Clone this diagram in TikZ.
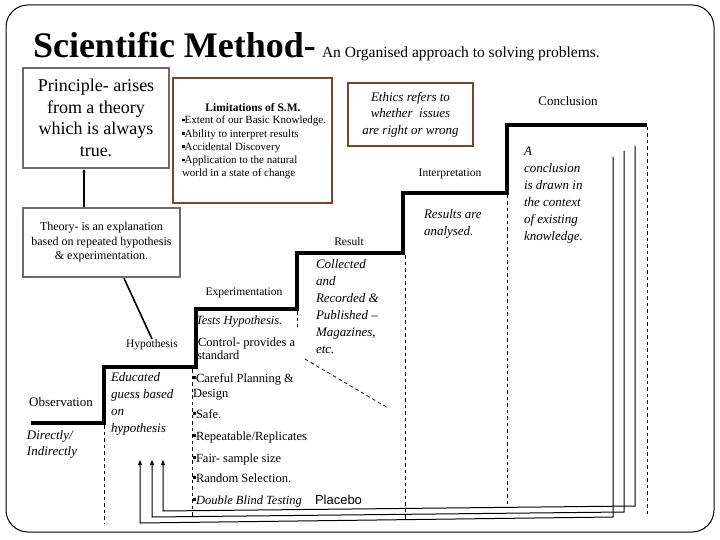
\documentclass[tikz,border=0pt]{standalone}
\usepackage{fontspec}
\setmainfont{Liberation Serif}
\newfontfamily\sansf{Liberation Sans}
\usetikzlibrary{arrows.meta}
\definecolor{graybr}{RGB}{118,104,104}
\definecolor{brownb}{RGB}{120,70,45}
\newcommand\sqb{\rule[0.22em]{0.24em}{0.24em}}
\begin{document}
\begin{tikzpicture}[x=1pt,y=-1pt,
  txt/.style={inner sep=0pt, outer sep=0pt},
  lbl/.style={txt, anchor=base, font=\fontsize{11.5}{14}\selectfont},
  itl/.style={txt, anchor=north west, align=left, font=\fontsize{13}{17}\selectfont\itshape},
  blt/.style={txt, anchor=base west, font=\fontsize{12.5}{14}\selectfont},
  gbox/.style={draw=graybr, line width=2.5pt, fill=white, inner sep=0pt},
  bbox/.style={draw=brownb, line width=2pt, inner sep=0pt},
  stair/.style={line width=3.5pt, line join=miter},
  dsh/.style={dash pattern=on 3.5pt off 3pt, line width=0.8pt},
  thinl/.style={line width=1pt},
  link/.style={line width=1.6pt},
  tip/.style={-{Triangle[length=5pt,width=4pt]}}
]
\useasboundingbox (0,0) rectangle (720,540);
\draw[line width=1pt, rounded corners=22pt] (6,5) rectangle (714,532);

% title
\node[txt, anchor=base west, font=\fontsize{36}{40}\selectfont\bfseries] (title) at (33,58) {Scientific Method-};
\node[txt, anchor=base west, font=\fontsize{15.5}{17}\selectfont] (subtitle) at (322,58) {An Organised approach to solving problems.};

% boxes
\node[gbox, minimum width=146pt, minimum height=100pt, align=center, font=\fontsize{18}{21.7}\selectfont] (principle) at (96,118) {Principle- arises\\from a theory\\which is always\\true.};
\node[bbox, minimum width=159pt, minimum height=125pt] (limits) at (252.5,140.5) {};
\node[txt, anchor=base, font=\fontsize{11.5}{13}\selectfont\bfseries] (limtitle) at (253,112) {Limitations of S.M.};
\node[txt, anchor=north west, align=left, font=\fontsize{11}{13.3}\selectfont] (limlist) at (182,116) {\sqb Extent of our Basic Knowledge.\\\sqb Ability to interpret results\\\sqb Accidental Discovery\\\sqb Application to the natural\\world in a state of change};
\node[bbox, minimum width=125pt, minimum height=63pt, align=center, font=\fontsize{13}{16.5}\selectfont\itshape] (ethics) at (410.5,114.5) {Ethics refers to\\whether\ \ issues\\are right or wrong};
\node[gbox, minimum width=157pt, minimum height=69pt, align=center, font=\fontsize{12}{14.5}\selectfont] (theory) at (101.5,242.5) {Theory- is an explanation\\based on repeated hypothesis\\\& experimentation.};

% staircase
\draw[stair] (31,423) -| (104,367) -| (196,309) -| (297,253) -| (403,193) -| (507,125) -- (647,125);

% dashed
\draw[dsh] (104,425) -- (104,523);
\draw[dsh] (192,369) -- (192,517);
\draw[dsh] (297,311) -- (297,327);
\draw[dsh] (305,359) -- (388,408);
\draw[dsh] (405,255) -- (405,519);
\draw[dsh] (507,195) -- (507,508);
\draw[dsh] (647,127) -- (647,517);

% step labels
\node[lbl, font=\fontsize{13}{15}\selectfont] (conclusion) at (568,106) {Conclusion};
\node[lbl] (interp) at (450,177) {Interpretation};
\node[lbl] (result) at (349,245) {Result};
\node[lbl] (experim) at (244,295) {Experimentation};
\node[lbl] (hyp) at (152,347) {Hypothesis};
\node[lbl, font=\fontsize{13}{15}\selectfont] (obs) at (61,406) {Observation};

% italic descriptions
\node[itl] (concl) at (524,147) {A\\conclusion\\is drawn in\\the context\\of existing\\knowledge.};
\node[itl] (analysed) at (424,209) {Results are\\analysed.};
\node[itl] (collected) at (316,259) {Collected\\and\\Recorded \&\\Published –\\Magazines,\\etc.};
\node[itl] (educated) at (111,372) {Educated\\guess based\\on\\hypothesis};
\node[itl, font=\fontsize{13}{16}\selectfont\itshape] (directly) at (27,430) {Directly/\\Indirectly};

% experimentation list
\node[blt, font=\fontsize{12.5}{14}\selectfont\itshape] (tests) at (196,324) {Tests Hypothesis.};
\node[blt] (ctrl) at (195,346) {\sqb Control- provides a};
\node[blt] (ctrlb) at (197,359) {standard};
\node[blt] (careful) at (193,382) {\sqb Careful Planning \&};
\node[blt] (design) at (193,397) {Design};
\node[blt] (safe) at (193,418) {\sqb Safe.};
\node[blt] (repeat) at (193,440) {\sqb Repeatable/Replicates};
\node[blt] (fair) at (193,462) {\sqb Fair- sample size};
\node[blt] (random) at (193,482) {\sqb Random Selection.};
\node[blt] (double) at (193,504) {\sqb\textit{Double Blind Testing}};
\node[txt, anchor=base west, font=\sansf\fontsize{13}{15}\selectfont] (placebo) at (315,504) {Placebo};

% links between boxes
\coordinate (plx) at (84,0);
\draw[link, -{Stealth[length=3pt,width=3pt]}] (plx |- theory.north) -- (plx |- principle.south);
\coordinate (tlx) at (124,0);
\draw[link] (tlx |- theory.south) -- (hyp.north);

% feedback arrows
\coordinate (a1s) at (635,146); \coordinate (a1c) at (635,506); \coordinate (a1d) at (163,511); \coordinate (a1e) at (163,460);
\coordinate (a2s) at (624,151); \coordinate (a2c) at (624,512); \coordinate (a2d) at (152,517); \coordinate (a2e) at (152,460);
\coordinate (a3s) at (613,157); \coordinate (a3c) at (613,517); \coordinate (a3d) at (140,523); \coordinate (a3e) at (140,460);
\draw[thinl, tip] (a1s) -- (a1c) -- (a1d) -- (a1e);
\draw[thinl, tip] (a2s) -- (a2c) -- (a2d) -- (a2e);
\draw[thinl, tip] (a3s) -- (a3c) -- (a3d) -- (a3e);
\end{tikzpicture}
\end{document}
